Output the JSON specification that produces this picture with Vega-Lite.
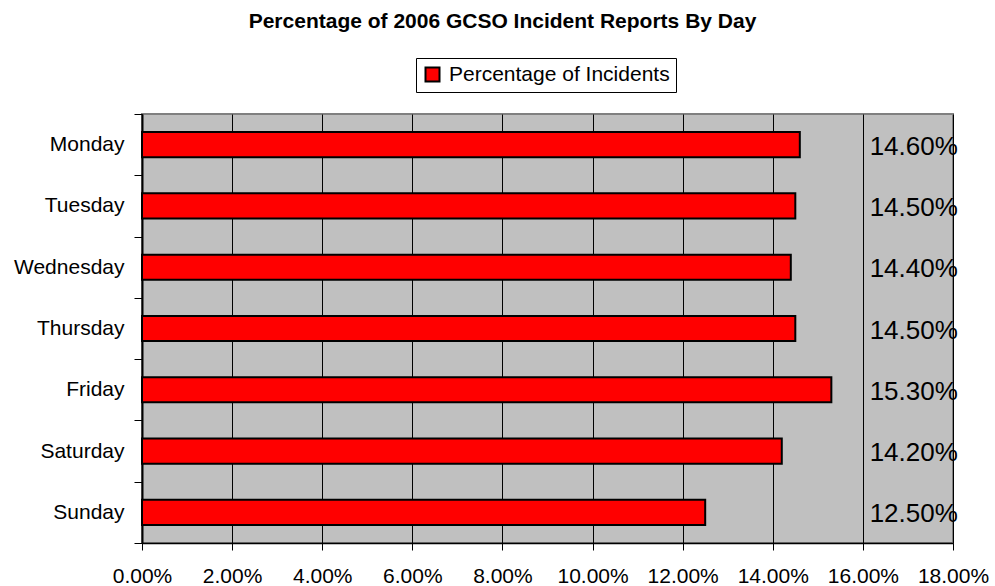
{
  "$schema": "https://vega.github.io/schema/vega-lite/v6.json",
  "width": 811,
  "height": 429,
  "autosize": {"type": "none"},
  "padding": {"left": 142, "top": 114, "right": 42, "bottom": 43},
  "background": "white",
  "config": {
    "font": "Liberation Sans",
    "view": {"fill": "#C0C0C0", "stroke": "#808080", "strokeWidth": 2}
  },
  "title": {
    "text": "Percentage of 2006 GCSO Incident Reports By Day",
    "fontSize": 21,
    "fontWeight": "bold",
    "color": "black",
    "anchor": "middle",
    "frame": "group",
    "dx": -45,
    "baseline": "bottom",
    "offset": 5
  },
  "data": {
    "values": [
      {"Day": "Monday", "Percentage": 0.146},
      {"Day": "Tuesday", "Percentage": 0.145},
      {"Day": "Wednesday", "Percentage": 0.144},
      {"Day": "Thursday", "Percentage": 0.145},
      {"Day": "Friday", "Percentage": 0.153},
      {"Day": "Saturday", "Percentage": 0.142},
      {"Day": "Sunday", "Percentage": 0.125}
    ]
  },
  "layer": [
    {
      "mark": {"type": "bar", "stroke": "black", "strokeWidth": 2, "height": {"band": 0.41}},
      "encoding": {
        "y": {
          "field": "Day",
          "type": "nominal",
          "sort": null,
          "scale": {"paddingInner": 0, "paddingOuter": 0},
          "axis": {
            "title": null,
            "labelFontSize": 21,
            "labelColor": "black",
            "labelPadding": 10,
            "labelLimit": 300,
            "tickSize": 8,
            "tickBand": "extent",
            "tickColor": "black",
            "domainColor": "black",
            "domainWidth": 2,
            "grid": false
          }
        },
        "x": {
          "field": "Percentage",
          "type": "quantitative",
          "scale": {"domain": [0, 0.18], "nice": false},
          "axis": {
            "title": null,
            "values": [0, 0.02, 0.04, 0.06, 0.08, 0.1, 0.12, 0.14, 0.16, 0.18],
            "format": ".2%",
            "labelFontSize": 21,
            "labelColor": "black",
            "labelPadding": 15,
            "labelOverlap": false,
            "labelFlush": false,
            "tickSize": 7,
            "tickColor": "black",
            "domainColor": "black",
            "domainWidth": 1.5,
            "grid": true,
            "gridColor": "black",
            "gridWidth": 1,
            "gridOpacity": 1
          }
        },
        "color": {
          "datum": "Percentage of Incidents",
          "type": "nominal",
          "scale": {"range": ["#FF0000"]},
          "legend": {
            "title": null,
            "orient": "none",
            "legendX": 274,
            "legendY": -56,
            "strokeColor": "black",
            "fillColor": "white",
            "padding": 6,
            "labelFontSize": 21,
            "labelColor": "black",
            "labelOffset": 6,
            "labelLimit": 400,
            "symbolType": "square",
            "symbolSize": 196,
            "symbolStrokeColor": "black",
            "symbolStrokeWidth": 2,
            "symbolOpacity": 1
          }
        }
      }
    },
    {
      "mark": {"type": "text", "align": "left", "baseline": "middle", "fontSize": 26, "dy": 2, "color": "black"},
      "encoding": {
        "y": {"field": "Day", "type": "nominal", "sort": null},
        "x": {"datum": 0.1615},
        "text": {"field": "Percentage", "format": ".2%"}
      }
    }
  ]
}
